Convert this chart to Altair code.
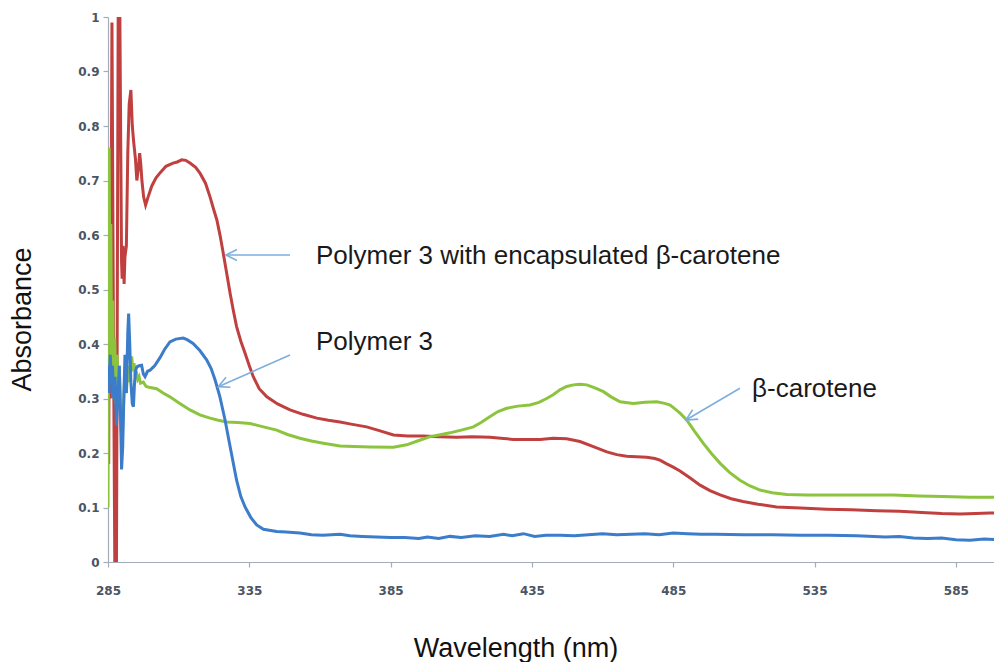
import altair as alt
import pandas as pd

# ---- data ----
red_wl = [285.0, 285.25, 285.5, 285.85, 286.4, 286.9, 287.4, 288.0, 288.6, 289.2, 289.8, 290.0, 290.3,
          290.7, 291.0, 291.5, 292.0, 292.5, 293.1, 293.6, 294.1, 294.7, 295.2, 295.7, 296.2, 296.6,
          297.0, 297.6, 298.3, 299.2, 300.5, 302.0, 303.4, 305.5, 308.0, 309.5, 311.1, 312.5, 314.0,
          316.0, 317.6, 319.5, 321.1, 322.5, 323.5, 324.7, 325.8, 327.0, 328.2, 329.4, 330.5, 332.0,
          333.5, 335.0, 336.4, 338.5, 341.2, 345.0, 349.4, 354.0, 358.9, 363.0, 367.1, 371.0, 376.5,
          381.0, 386.0, 391.0, 396.6, 402.0, 408.4, 414.0, 420.2, 424.0, 428.4, 433.0, 437.9, 442.5,
          447.3, 452.0, 456.5, 461.5, 465.0, 468.5, 472.0, 475.6, 478.5, 480.3, 482.7, 485.0, 487.4,
          491.0, 494.5, 498.0, 501.6, 505.5, 509.7, 515.0, 521.6, 530.0, 539.3, 548.0, 557.0, 565.0,
          574.7, 580.0, 586.5, 592.0, 597.0, 601.3]
red_abs = [0.66, 0.18, 0.55, 0.30, 0.99, 0.45, 0.0, 0.0, 1.0, 1.0, 0.55, 0.52, 0.58,
           0.51, 0.56, 0.58, 0.75, 0.84, 0.866, 0.80, 0.77, 0.74, 0.70, 0.72, 0.75, 0.73,
           0.70, 0.67, 0.655, 0.67, 0.69, 0.705, 0.714, 0.726, 0.732, 0.734, 0.738, 0.737, 0.732,
           0.724, 0.713, 0.695, 0.670, 0.645, 0.628, 0.598, 0.566, 0.530, 0.493, 0.460, 0.432, 0.405,
           0.383, 0.360, 0.340, 0.318, 0.303, 0.290, 0.279, 0.271, 0.264, 0.260, 0.257, 0.253, 0.248,
           0.241, 0.233, 0.231, 0.231, 0.230, 0.229, 0.230, 0.229, 0.227, 0.225, 0.225, 0.225, 0.227,
           0.226, 0.221, 0.212, 0.202, 0.197, 0.194, 0.193, 0.192, 0.190, 0.187, 0.180, 0.174, 0.167,
           0.154, 0.141, 0.131, 0.123, 0.116, 0.111, 0.106, 0.101, 0.099, 0.097, 0.096, 0.094, 0.093,
           0.0905, 0.089, 0.088, 0.089, 0.090, 0.090]

blue_wl = [285.0, 285.4, 285.8, 286.2, 286.6, 287.0, 287.5, 288.0, 288.5, 289.0, 289.4, 289.8, 290.2,
           290.6, 291.0, 291.5, 292.0, 292.3, 292.7, 293.1, 293.6, 294.0, 294.4, 294.8, 295.2, 296.0,
           296.9, 297.5, 298.1, 299.0, 299.9, 301.5, 303.4, 305.0, 306.9, 309.0, 311.6, 313.0, 315.1,
           317.5, 319.9, 321.5, 322.9, 324.6, 326.4, 328.2, 330.5, 332.0, 333.5, 335.5, 337.6, 340.0,
           344.7, 348.0, 352.9, 357.0, 361.0, 367.1, 370.6, 375, 380, 385, 390, 395, 398, 402, 406,
           410, 415, 420, 425, 428, 432, 436, 440, 445, 450, 455, 460, 465, 470, 475, 480, 485, 490,
           495, 500, 510, 520, 530, 540, 550, 560, 565, 570, 575, 580, 585, 590, 595, 601.3]
blue_abs = [0.36, 0.31, 0.38, 0.33, 0.36, 0.30, 0.34, 0.25, 0.30, 0.36, 0.28, 0.17, 0.21,
            0.30, 0.38, 0.31, 0.42, 0.456, 0.40, 0.33, 0.29, 0.285, 0.33, 0.352, 0.358, 0.36,
            0.361, 0.345, 0.34, 0.35, 0.352, 0.36, 0.375, 0.39, 0.404, 0.409, 0.411, 0.408, 0.401,
            0.388, 0.371, 0.355, 0.334, 0.303, 0.261, 0.212, 0.150, 0.120, 0.101, 0.082, 0.068, 0.060,
            0.056, 0.055, 0.053, 0.050, 0.049, 0.051, 0.048, 0.047, 0.046, 0.045, 0.045, 0.043, 0.046,
            0.043, 0.047, 0.045, 0.048, 0.047, 0.051, 0.048, 0.052, 0.047, 0.049, 0.049, 0.048, 0.050,
            0.052, 0.050, 0.051, 0.052, 0.050, 0.053, 0.052, 0.051, 0.051, 0.050, 0.050, 0.049, 0.049,
            0.048, 0.046, 0.047, 0.044, 0.043, 0.044, 0.041, 0.040, 0.042, 0.041]

green_wl = [285.0, 285.2, 285.4, 285.7, 286.0, 286.3, 286.7, 287.0, 287.4, 287.8, 288.2, 288.6, 289.0,
            289.5, 290.0, 290.5, 291.0, 291.5, 292.0, 292.5, 293.0, 293.4, 293.8, 294.2, 294.6, 295.0,
            295.5, 296.0, 296.5, 297.5, 298.5, 299.9, 302.2, 304.5, 306.9, 310.0, 314.0, 317.5, 321.1,
            324.0, 327.0, 331.0, 335.2, 340.0, 344.7, 348.5, 352.9, 357.0, 361.2, 367.1, 372.0, 378.0,
            386.0, 390.7, 394.5, 399.0, 403.0, 406.0, 410.0, 414.3, 417.0, 420.2, 423.0, 426.1, 430.0,
            434.3, 437.5, 440.2, 442.5, 444.9, 447.3, 449.7, 452.0, 454.4, 457.5, 460.3, 463.0, 466.2,
            470.9, 475.0, 479.2, 482.0, 483.9, 485.6, 487.4, 489.7, 492.5, 495.6, 498.5, 501.6, 505.0,
            508.6, 512.0, 515.7, 520.0, 525.2, 532.0, 539.3, 550.0, 562.9, 572.0, 580.6, 590.0, 601.3]
green_abs = [0.10, 0.50, 0.76, 0.45, 0.62, 0.33, 0.48, 0.30, 0.41, 0.29, 0.38, 0.31, 0.36,
             0.25, 0.22, 0.29, 0.35, 0.31, 0.36, 0.33, 0.37, 0.377, 0.35, 0.365, 0.34, 0.35,
             0.335, 0.34, 0.328, 0.33, 0.322, 0.320, 0.318, 0.310, 0.303, 0.292, 0.279, 0.270, 0.264,
             0.260, 0.257, 0.256, 0.254, 0.248, 0.242, 0.234, 0.227, 0.222, 0.218, 0.213, 0.212, 0.211,
             0.2105, 0.215, 0.222, 0.230, 0.234, 0.237, 0.242, 0.248, 0.256, 0.267, 0.276, 0.282, 0.286,
             0.288, 0.293, 0.300, 0.307, 0.316, 0.322, 0.325, 0.326, 0.325, 0.319, 0.3125, 0.303, 0.294,
             0.291, 0.293, 0.294, 0.291, 0.288, 0.281, 0.273, 0.261, 0.240, 0.218, 0.199, 0.181, 0.164,
             0.150, 0.140, 0.132, 0.127, 0.124, 0.123, 0.123, 0.123, 0.123, 0.121, 0.120, 0.119, 0.119]

x_ticks = [285, 335, 385, 435, 485, 535, 585]
y_ticks = [0, 0.1, 0.2, 0.3, 0.4, 0.5, 0.6, 0.7, 0.8, 0.9, 1]

labels = ["Polymer 3 with encapsulated \u03b2-carotene", "Polymer 3", "\u03b2-carotene"]
label_wl = [358.6, 358.6, 512.9]
label_abs = [0.5468, 0.389, 0.3028]

arrow_tail_wl = [349.4, 349.4, 508.6]
arrow_tail_abs = [0.5633, 0.3798, 0.3187]
arrow_tip_wl = [326.75, 324.0, 489.5]
arrow_tip_abs = [0.5633, 0.3217, 0.2606]
arrow_angle = [270, 246.2, 239.6]

RED, GREEN, BLUE = "#C0403F", "#8CC43E", "#3B7DCB"
ARROW = "#7EAEDD"

X_DOMAIN = [285, 598.5]

xs = alt.Scale(domain=X_DOMAIN, nice=False, zero=False)
ys = alt.Scale(domain=[0, 1], nice=False)

x_axis = alt.Axis(values=x_ticks, format="d", title="Wavelength (nm)", grid=False,
                  tickSize=5, labelPadding=18, labelFlush=False, titleX=407.5, titleY=94,
                  titleBaseline="alphabetic", titleAlign="center", titleAnchor="start")
y_axis = alt.Axis(values=y_ticks, format=".1~f", title="Absorbance", grid=False,
                  tickSize=5, labelPadding=4, labelFlush=False, titleAngle=270, titleX=-86, titleY=302,
                  titleBaseline="middle", titleAlign="center", titleAnchor="start")


def X(field):
    return alt.X(field, type="quantitative", scale=xs, axis=x_axis)


def Y(field):
    return alt.Y(field, type="quantitative", scale=ys, axis=y_axis)


def series_layer(wl, ab, color):
    df = pd.DataFrame({"wl": wl, "ab": ab})
    return alt.Chart(df).mark_line(color=color, strokeWidth=3, clip=True, interpolate="linear").encode(
        x=X("wl"), y=Y("ab"))


red = series_layer(red_wl, red_abs, RED)
green = series_layer(green_wl, green_abs, GREEN)
blue = series_layer(blue_wl, blue_abs, BLUE)

ann = pd.DataFrame({
    "label": labels, "lx": label_wl, "ly": label_abs,
    "tx": arrow_tail_wl, "ty": arrow_tail_abs,
    "hx": arrow_tip_wl, "hy": arrow_tip_abs, "ang": arrow_angle,
})

text = alt.Chart(ann).mark_text(align="left", baseline="alphabetic", font="Liberation Sans",
                                fontSize=26, color="#1A1A1A").encode(
    x=X("lx"), y=Y("ly"), text="label:N")

shafts = alt.Chart(ann).mark_rule(color=ARROW, strokeWidth=1.6).encode(
    x=X("tx"), y=Y("ty"), x2="hx:Q", y2="hy:Q")

heads = alt.Chart(ann).mark_point(shape="M-0.5,1L0,0L0.5,1", filled=False, size=480,
                                  strokeWidth=1.6, color=ARROW, opacity=1).encode(
    x=X("hx"), y=Y("hy"), angle=alt.Angle("ang:Q", scale=None))

chart = alt.layer(red, green, blue, shafts, heads, text).properties(
    width=886, height=545,
    autosize=alt.AutoSizeParams(type="none"),
    padding={"left": 100, "top": 9, "right": 0, "bottom": 100},
    background="#FFFFFF",
).configure_view(stroke=None).configure_axis(
    domainColor="#A3ADB9", tickColor="#A3ADB9", domainWidth=1.2, tickWidth=1.2,
    labelFont="DejaVu Sans", labelFontSize=12, labelFontWeight="bold", labelColor="#4B5563",
    titleFont="Liberation Sans", titleFontSize=27, titleFontWeight="normal", titleColor="#111111",
)

chart.save("out.html", embed_options={"renderer": "svg", "actions": False})
